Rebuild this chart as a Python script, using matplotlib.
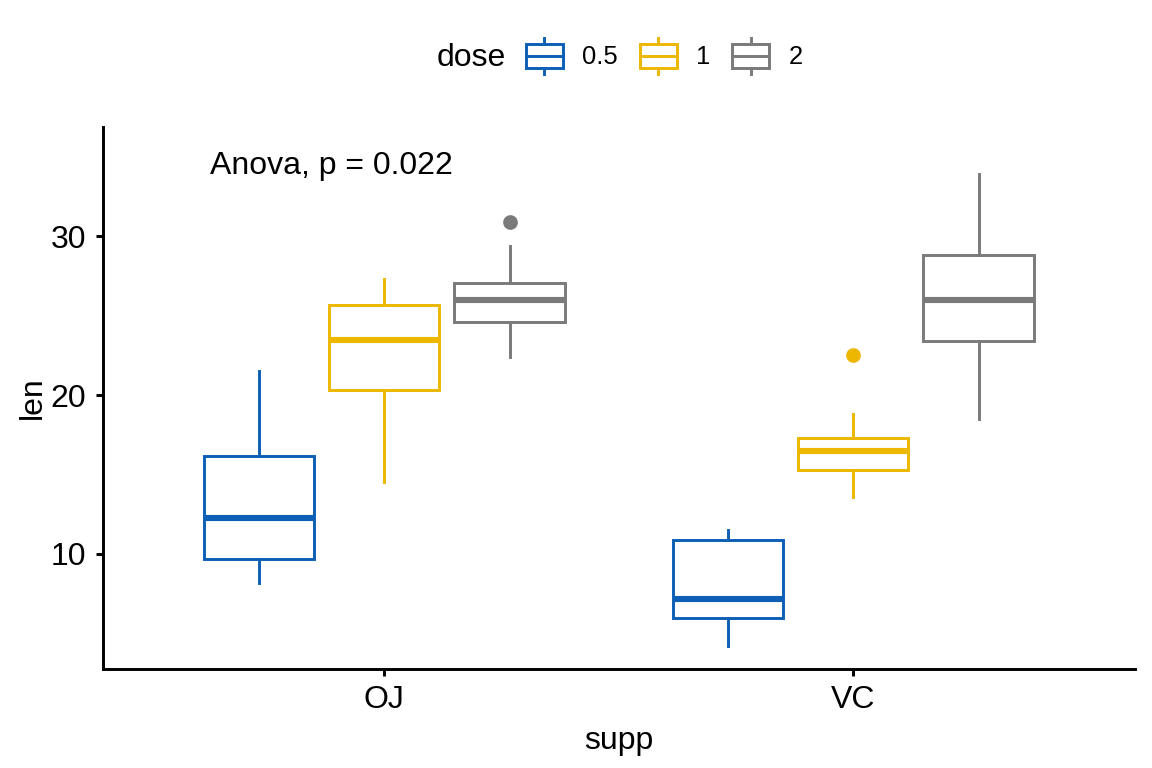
import numpy as np
import matplotlib
matplotlib.use("Agg")
import matplotlib.pyplot as plt
from matplotlib.legend_handler import HandlerBase
from matplotlib.patches import Rectangle
from matplotlib.lines import Line2D

plt.rcParams.update({'font.family': ['Liberation Sans', 'DejaVu Sans'], 'font.size': 12})

# --- DADOS (ToothGrowth) ---
supp = ['OJ', 'VC']
doses = ['0.5', '1', '2']
colors = ['#0C5FB5', '#EDB700', '#7A7A7A']

oj_05 = [15.2, 21.5, 17.6, 9.7, 14.5, 10.0, 8.2, 9.4, 16.5, 9.7]
oj_1 = [19.7, 23.3, 23.6, 26.4, 20.0, 25.2, 25.8, 21.2, 14.5, 27.3]
oj_2 = [25.5, 26.4, 22.4, 24.5, 24.8, 30.9, 26.4, 27.3, 29.4, 23.0]
vc_05 = [4.2, 11.5, 7.3, 5.8, 6.4, 10.0, 11.2, 11.2, 5.2, 7.0]
vc_1 = [16.5, 16.5, 15.2, 17.3, 22.5, 17.3, 13.6, 14.5, 18.8, 15.5]
vc_2 = [23.6, 18.5, 33.9, 25.5, 26.4, 32.5, 26.7, 21.5, 23.3, 29.5]

groups = {'OJ': [oj_05, oj_1, oj_2], 'VC': [vc_05, vc_1, vc_2]}
anova_label = 'Anova, p = 0.022'

# --- FIGURA ---
fig = plt.figure(figsize=(6, 4), dpi=192)
ax = fig.add_axes([0.0894, 0.129, 0.8956, 0.7056])

offsets = [-0.267, 0.0, 0.267]
box_w = 0.235
lw = 1.1

for i, s in enumerate(supp):
    for j, vals in enumerate(groups[s]):
        c = colors[j]
        ax.boxplot([vals], positions=[i + 1 + offsets[j]], widths=box_w,
                   whis=1.5, patch_artist=True, manage_ticks=False,
                   boxprops=dict(facecolor='white', edgecolor=c, linewidth=lw),
                   medianprops=dict(color=c, linewidth=2.3, solid_capstyle='butt'),
                   whiskerprops=dict(color=c, linewidth=lw),
                   capprops=dict(linewidth=0),
                   flierprops=dict(marker='o', markerfacecolor=c, markeredgecolor=c,
                                   markersize=4.5))

ax.set_xlim(0.4, 2.6)
ax.set_ylim(2.77, 36.86)
ax.set_xticks([1, 2])
ax.set_xticklabels(supp)
ax.set_yticks([10, 20, 30])
ax.set_xlabel('supp', fontsize=12, labelpad=4)
ax.set_ylabel('len', fontsize=12, labelpad=1)
for side in ['top', 'right']:
    ax.spines[side].set_visible(False)
for side in ['left', 'bottom']:
    ax.spines[side].set_linewidth(1.1)
ax.tick_params(width=1.1, length=2.7, labelsize=12, color='black', labelcolor='black')

ax.text(0.628, 34.4, anova_label, ha='left', va='center', fontsize=12)


# --- LEGENDA com glifo de boxplot ---
class BoxHandler(HandlerBase):
    def create_artists(self, legend, orig_handle, xdescent, ydescent, width, height, fontsize, trans):
        c = orig_handle.get_color()
        bw, bh = width * 0.82, height * 0.66
        x0 = -xdescent + (width - bw) / 2
        y0 = -ydescent + (height - bh) / 2
        xc = x0 + bw / 2
        rect = Rectangle((x0, y0), bw, bh, facecolor='white', edgecolor=c, lw=lw, transform=trans)
        mid = Line2D([x0, x0 + bw], [y0 + bh / 2] * 2, color=c, lw=lw, transform=trans)
        wt = Line2D([xc, xc], [y0 + bh, -ydescent + height], color=c, lw=lw, transform=trans)
        wb = Line2D([xc, xc], [-ydescent, y0], color=c, lw=lw, transform=trans)
        return [rect, mid, wt, wb]


handles = [Line2D([], [], color=c) for c in colors]
fig.legend(handles, doses, handler_map={Line2D: BoxHandler()},
           ncol=3, loc='center left', bbox_to_anchor=(522 / 1152, 1 - 56 / 768),
           frameon=False, fontsize=9.6, borderaxespad=0, borderpad=0,
           handlelength=1.75, handleheight=1.8, handletextpad=0.6,
           columnspacing=0.7)
fig.text(506 / 1152, 1 - 58 / 768, 'dose', ha='right', va='center', fontsize=12)

fig.savefig('out.png', dpi=192)
